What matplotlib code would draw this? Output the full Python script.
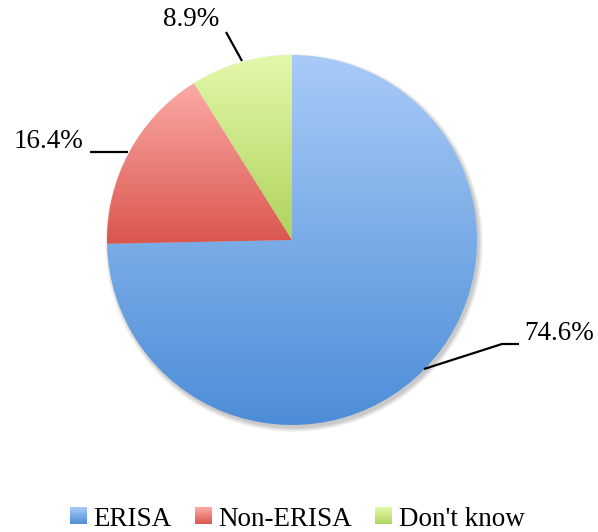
import numpy as np
import matplotlib
matplotlib.use("Agg")
import matplotlib.pyplot as plt
from matplotlib.patches import Circle, Rectangle
from matplotlib.legend_handler import HandlerBase
from matplotlib.colors import to_rgb

categories = ["ERISA", "Non-ERISA", "Don't know"]
shares = [74.6, 16.4, 8.9]
labels = ["74.6%", "16.4%", "8.9%"]

# top / bottom colours of each slice's vertical gradient
grad_top = ["#a8cbf8", "#fbaaa6", "#e3f8aa"]
grad_bot = ["#4d8dd7", "#da564d", "#afd35c"]

W, H = 598, 532
fig = plt.figure(figsize=(W / 100, H / 100), dpi=100)
ax = fig.add_axes([0, 0, 1, 1])

cx, cy, R = 292, 532 - 240, 185

# soft drop shadow
for i in range(8):
    ax.add_patch(Circle((cx + 2, cy - 3), R + 4 - i * 0.6, color="black",
                        alpha=0.028, lw=0, zorder=1))

wedges, _ = ax.pie(shares, startangle=90, counterclock=False,
                   center=(cx, cy), radius=R, frame=True,
                   wedgeprops=dict(linewidth=0))

def vgrad(c_top, c_bot, n=256):
    t = np.linspace(0, 1, n)[:, None]
    a, b = np.array(to_rgb(c_top)), np.array(to_rgb(c_bot))
    return (a * (1 - t) + b * t)[:, None, :]

for w, ct, cb in zip(wedges, grad_top, grad_bot):
    w.set_facecolor("none")
    w.set_zorder(3)
    ext = w.get_path().get_extents()
    im = ax.imshow(vgrad(ct, cb), extent=[ext.x0, ext.x1, ext.y0, ext.y1],
                   origin="upper", aspect="auto", zorder=2, interpolation="bilinear")
    im.set_clip_path(w)

ax.set_xlim(0, W)
ax.set_ylim(0, H)
ax.set_aspect("equal")
ax.axis("off")

font = "Liberation Serif"
fs = 19.5

# leader lines and value labels
def leader(xs, ys):
    ax.plot(xs, [H - y for y in ys], color="black", lw=1.6, zorder=4,
            solid_capstyle="butt")

leader([424, 502, 519], [369, 344, 344])
ax.text(524, H - 334, labels[0], fontsize=fs, family=font, ha="left", va="center")
leader([90, 128], [152, 152])
ax.text(83, H - 142, labels[1], fontsize=fs, family=font, ha="right", va="center")
leader([226, 242], [32, 61])
ax.text(191, H - 20, labels[2], fontsize=fs, family=font, ha="center", va="center")

class GradientSquare(HandlerBase):
    def __init__(self, ct, cb):
        super().__init__()
        self.ct, self.cb = ct, cb

    def create_artists(self, legend, orig, xd, yd, width, height, fontsize, trans):
        side = width
        y0 = yd + (height - side) / 2
        n = 14
        a, b = np.array(to_rgb(self.ct)), np.array(to_rgb(self.cb))
        arts = []
        for k in range(n):
            t = (k + 0.5) / n
            col = a * (1 - t) + b * t
            r = Rectangle((xd, y0 + side * (n - k - 1) / n), side, side / n + 0.3,
                          facecolor=col, lw=0, transform=trans)
            arts.append(r)
        return arts

handles = [Rectangle((0, 0), 1, 1) for _ in categories]
hmap = {h: GradientSquare(ct, cb) for h, ct, cb in zip(handles, grad_top, grad_bot)}
fig.legend(handles, categories, handler_map=hmap, loc="center",
           bbox_to_anchor=(0.497, 13 / H), ncol=3, frameon=False,
           prop=dict(family=font, size=fs), handlelength=0.62, handleheight=0.7,
           handletextpad=0.25, columnspacing=0.85, borderpad=0)

fig.savefig("out.png", dpi=100)
